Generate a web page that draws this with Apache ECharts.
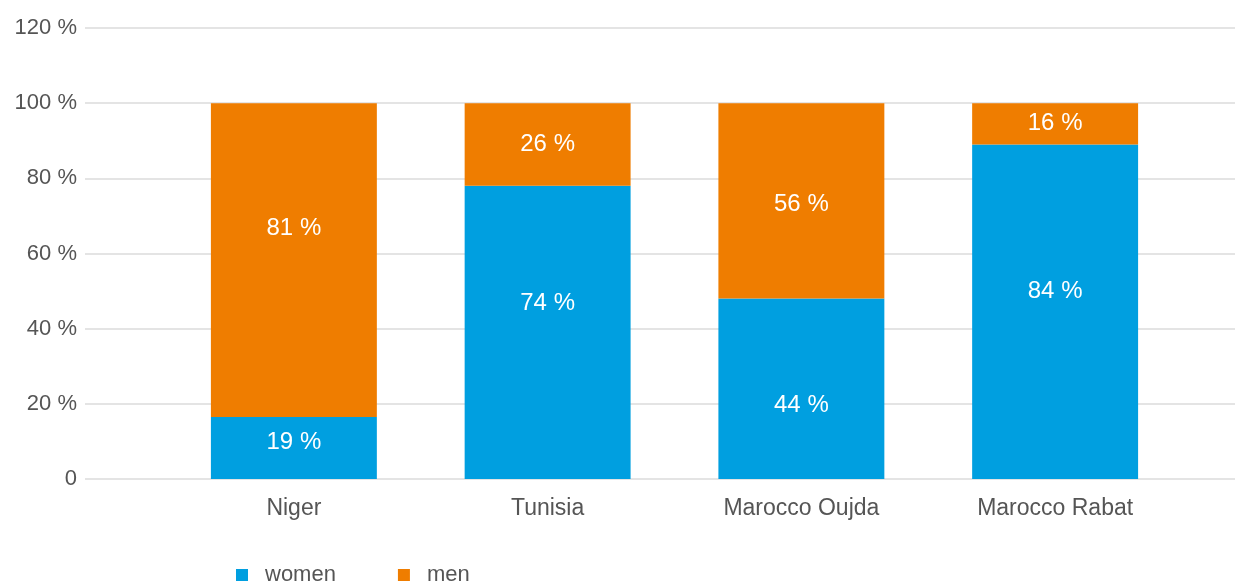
<!DOCTYPE html>
<html>
<head>
<meta charset="utf-8">
<script src="https://cdn.jsdelivr.net/npm/echarts@6/dist/echarts.min.js"></script>
<style>
  html, body { margin: 0; padding: 0; background: #fff; }
  #chart { width: 1235px; height: 581px; }
</style>
</head>
<body>
<div id="chart"></div>
<script>
// categories and values (bar heights as drawn, labels as printed)
var countries = ['Niger', 'Tunisia', 'Marocco Oujda', 'Marocco Rabat'];
var women = [16.5, 78, 48, 89];
var men = [83.5, 22, 52, 11];
var womenLabels = [19, 74, 44, 84];
var menLabels = [81, 26, 56, 16];
var yTicks = [0, 20, 40, 60, 80, 100, 120];

var FONT = 'Liberation Sans';

// printed labels are not centred on their segments in the original
var womenOffset = [-6, -29, 17, -20];
var menOffset = [-32, 0, 3, 0];

function buildData(values, labels, offsets) {
    return values.map(function (v, i) {
        return {
            value: v,
            label: { formatter: labels[i] + ' %', offset: [0, offsets[i]] }
        };
    });
}

var myChart = echarts.init(document.getElementById('chart'));

var option = {
    animation: false,
    textStyle: { fontFamily: FONT },
    legend: {
        data: ['women', 'men'],
        left: 231,
        top: 559,
        itemWidth: 12,
        itemHeight: 12,
        itemGap: 62,
        icon: 'rect',
        textStyle: { fontSize: 22, color: '#555', fontFamily: FONT, padding: [0, 0, 0, 12] }
    },
    grid: [
        { left: 85, right: 0, top: 28, bottom: 102 },
        { left: 167, right: 53, top: 28, bottom: 102 }
    ],
    xAxis: [
        { type: 'value', gridIndex: 0, min: 0, max: 1, show: false },
        {
            type: 'category',
            gridIndex: 1,
            data: countries,
            axisLine: { show: false },
            axisTick: { show: false },
            axisLabel: { fontSize: 23, color: '#555', margin: 18, fontFamily: FONT }
        }
    ],
    yAxis: [
        {
            type: 'value',
            gridIndex: 0,
            min: 0,
            max: 120,
            interval: 20,
            axisLine: { show: false },
            axisTick: { show: false },
            splitLine: { lineStyle: { color: '#e4e4e4', width: 2 } },
            axisLabel: {
                fontSize: 22,
                color: '#555',
                margin: 8,
                fontFamily: FONT,
                formatter: function (v) {
                    return yTicks.indexOf(v) === 0 ? '0' : v + ' %';
                }
            }
        },
        { type: 'value', gridIndex: 1, min: 0, max: 120, show: false }
    ],
    series: [
        {
            name: 'women',
            type: 'bar',
            stack: 'total',
            xAxisIndex: 1,
            yAxisIndex: 1,
            barCategoryGap: '34.6%',
            itemStyle: { color: '#009fe0' },
            label: { show: true, position: 'inside', color: '#fff', fontSize: 24, fontFamily: FONT },
            data: buildData(women, womenLabels, womenOffset)
        },
        {
            name: 'men',
            type: 'bar',
            stack: 'total',
            xAxisIndex: 1,
            yAxisIndex: 1,
            barCategoryGap: '34.6%',
            itemStyle: { color: '#ef7d00' },
            label: { show: true, position: 'inside', color: '#fff', fontSize: 24, fontFamily: FONT },
            data: buildData(men, menLabels, menOffset)
        }
    ]
};

myChart.setOption(option);
</script>
</body>
</html>
